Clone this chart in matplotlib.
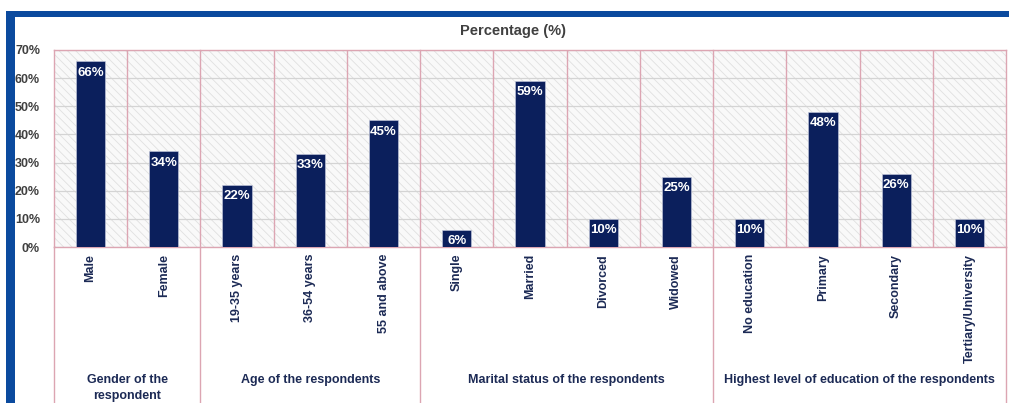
import matplotlib
matplotlib.use("Agg")
import matplotlib.pyplot as plt
import matplotlib.transforms as mtransforms
from matplotlib.patches import Rectangle
from matplotlib.ticker import FuncFormatter

# survey profile of respondents
categories = ["Male", "Female",
              "19-35 years", "36-54 years", "55 and above",
              "Single", "Married", "Divorced", "Widowed",
              "No education", "Primary", "Secondary", "Tertiary/University"]
values = [66, 34, 22, 33, 45, 6, 59, 10, 25, 10, 48, 26, 10]
groups = ["Gender of the\nrespondent", "Age of the respondents",
          "Marital status of the respondents",
          "Highest level of education of the respondents"]
group_sizes = [2, 3, 4, 4]
yticks = [0, 10, 20, 30, 40, 50, 60, 70]

plt.rcParams["font.family"] = ["Liberation Sans", "DejaVu Sans"]
plt.rcParams["hatch.linewidth"] = 0.6

W, H = 1009, 403
fig = plt.figure(figsize=(W / 100, H / 100), dpi=100)

# blue frame top and left
fig.patches.append(Rectangle((6 / W, 0), 9 / W, (H - 11) / H, transform=fig.transFigure,
                             facecolor="#0b4a9e", edgecolor="none"))
fig.patches.append(Rectangle((6 / W, (H - 17) / H), (W - 6) / W, 6 / H, transform=fig.transFigure,
                             facecolor="#0b4a9e", edgecolor="none"))

left, right, top, bottom = 54, 1006, 50, 247
ax = fig.add_axes([left / W, (H - bottom) / H, (right - left) / W, (bottom - top) / H])

pink = "#dca5b2"
navy_text = "#1c2a55"

# hatched background of the plot area
ax.add_patch(Rectangle((0, 0), 1, 1, transform=ax.transAxes, facecolor="#f9f9f9",
                       edgecolor="#e0e0e0", hatch="\\\\\\\\", linewidth=0, zorder=0))

x = list(range(len(categories)))
bars = ax.bar(x, values, width=0.4, color="#0b1f5c", edgecolor="#c8cde0", linewidth=0.4, zorder=3)
for b, v in zip(bars, values):
    ax.text(b.get_x() + b.get_width() / 2, v - 1.9, f"{v}%", ha="center", va="top",
            color="white", fontsize=9.5, fontweight="bold", zorder=4)

ax.set_xlim(-0.5, len(categories) - 0.5)
ax.set_ylim(0, 70)
ax.set_yticks(yticks)
ax.yaxis.set_major_formatter(FuncFormatter(lambda v, p: f"{int(v)}%"))
for t in ax.get_yticklabels():
    t.set_fontweight("bold")
ax.tick_params(axis="y", length=0, pad=10, labelsize=9, labelcolor="#404040")
ax.yaxis.grid(True, color="#d4d4d4", linewidth=0.9, zorder=1)
ax.set_axisbelow(True)

ax.set_xticks(x)
ax.set_xticklabels(categories, rotation=90, va="top", ha="center",
                   fontsize=9, fontweight="bold", color=navy_text)
ax.tick_params(axis="x", length=0, pad=5)

for s in ax.spines.values():
    s.set_color(pink)
    s.set_linewidth(1)

trans = mtransforms.blended_transform_factory(ax.transData, ax.transAxes)

# separators between categories and between groups
edges = [-0.5]
for n in group_sizes:
    edges.append(edges[-1] + n)
for i in range(len(categories) - 1):
    xb = i + 0.5
    if xb in edges:
        ax.plot([xb, xb], [1, -1.2], transform=trans, color=pink, linewidth=1,
                clip_on=False, zorder=2)
    else:
        ax.plot([xb, xb], [0, 1], transform=trans, color=pink, linewidth=1, zorder=2)
for xb in (edges[0], edges[-1]):
    ax.plot([xb, xb], [0, -1.2], transform=trans, color=pink, linewidth=1, clip_on=False)

# group captions
for g, a, b in zip(groups, edges[:-1], edges[1:]):
    ax.text((a + b) / 2, -0.645, g, transform=trans, ha="center", va="top",
            fontsize=9, fontweight="bold", color=navy_text, linespacing=1.4)

fig.text(513 / W, (H - 31) / H, "Percentage (%)", ha="center", va="center",
         fontsize=10.5, fontweight="bold", color="#404040")

fig.savefig("out.png", dpi=100)
